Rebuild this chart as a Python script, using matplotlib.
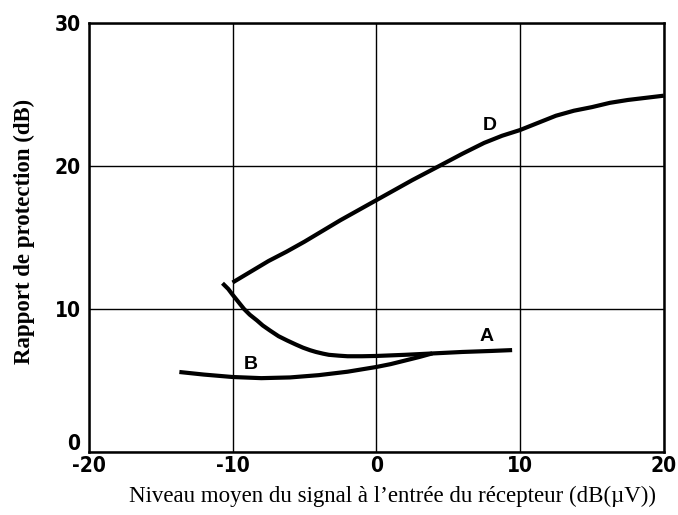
import matplotlib
matplotlib.use("Agg")
import matplotlib.pyplot as plt
from matplotlib import font_manager as fm
from matplotlib.transforms import ScaledTranslation

# Data
d_x = [-10, -8.75, -7.5, -6.25, -5, -2.5, 0, 2.5, 4.4, 6, 7.5, 8.75, 10, 11.25, 12.5, 13.75, 15, 16.25, 17.5, 18.75, 20]
d_y = [11.85, 12.6, 13.35, 14.0, 14.7, 16.2, 17.6, 19.0, 20.0, 20.85, 21.6, 22.1, 22.5, 23.0, 23.5, 23.85, 24.1, 24.4, 24.6, 24.75, 24.9]

a_x = [-10.7, -10.3, -10, -9.6, -9.2, -8.8, -8.3, -7.9, -7.4, -6.8, -6.2, -5.6, -5.1, -4.6, -4.2, -3.7, -3.3, -2.6, -2, -1, 0, 2, 4, 6, 8, 9.45]
a_y = [11.8, 11.4, 11.0, 10.5, 10.0, 9.6, 9.2, 8.85, 8.5, 8.1, 7.8, 7.52, 7.3, 7.12, 7.0, 6.88, 6.8, 6.74, 6.7, 6.7, 6.72, 6.8, 6.9, 7.0, 7.07, 7.13]

b_x = [-13.7, -12, -10, -8, -6, -4, -2, 0, 1, 2, 3, 3.9]
b_y = [5.6, 5.42, 5.25, 5.17, 5.22, 5.38, 5.62, 5.95, 6.15, 6.4, 6.65, 6.9]

labels = ["D", "A", "B"]
label_x = [7.9, 7.7, -8.7]
label_y = [22.8, 8.05, 6.14]

x_ticks = [-20, -10, 0, 10, 20]
x_tick_labels = ["-20", "-10", "0", "10", "20"]
y_ticks = [0, 10, 20, 30]
y_tick_labels = ["0", "10", "20", "30"]

names = {f.name for f in fm.fontManager.ttflist}
if "Liberation Sans Narrow" in names:
    tick_kw = dict(family="Liberation Sans Narrow")
else:
    tick_kw = dict(family="DejaVu Sans", fontstretch="condensed")

fig = plt.figure(figsize=(6.78, 5.15), dpi=100)
ax = fig.add_axes([0.131, 0.122, 0.848, 0.834])

for xs, ys in [(d_x, d_y), (a_x, a_y), (b_x, b_y)]:
    ax.plot(xs, ys, color="black", lw=3.0, solid_capstyle="butt",
            solid_joinstyle="round", zorder=3)

for t, lx, ly in zip(labels, label_x, label_y):
    ax.text(lx, ly, t, fontsize=14, fontweight="bold", family="Liberation Sans",
            ha="center", va="center", zorder=4)

ax.set_xlim(-20, 20)
ax.set_ylim(0, 30)
ax.set_xticks(x_ticks)
ax.set_xticklabels(x_tick_labels)
ax.set_yticks(y_ticks)
ax.set_yticklabels(y_tick_labels)
ax.grid(True, color="black", lw=1.0)
ax.set_axisbelow(True)
for s in ax.spines.values():
    s.set_linewidth(1.8)
ax.tick_params(length=0)
ax.tick_params(axis="x", pad=3)
ax.tick_params(axis="y", pad=6)
for lab in ax.get_xticklabels() + ax.get_yticklabels():
    lab.set(**tick_kw)
    lab.set_fontweight("bold")
    lab.set_fontsize(15)

# the "0" on the y axis sits slightly above the baseline in the reference
ylab0 = ax.get_yticklabels()[0]
ylab0.set_transform(ylab0.get_transform() + ScaledTranslation(0, 7 / 72, fig.dpi_scale_trans))

ax.set_xlabel("Niveau moyen du signal à l\u2019entrée du récepteur (dB(\u00b5V))",
              family="Liberation Serif", fontsize=16.5, va="center")
ax.xaxis.set_label_coords(0.529, -0.104)
ax.set_ylabel("Rapport de protection (dB)", family="Liberation Serif",
              fontsize=16.5, fontweight="bold", va="center")
ax.yaxis.set_label_coords(-0.112, 0.513)

fig.savefig("out.png", dpi=100)
